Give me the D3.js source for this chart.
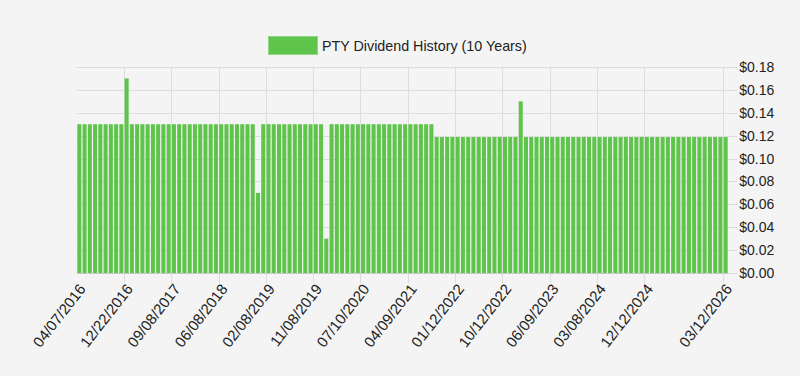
<!DOCTYPE html>
<html>
<head>
<meta charset="utf-8">
<script src="https://cdn.jsdelivr.net/npm/d3@7"></script>
<style>
  html, body { margin: 0; padding: 0; background: #f4f4f4; }
  svg { display: block; font-family: "Liberation Sans", Arial, sans-serif; }
  .grid line { stroke: #dddddd; stroke-width: 1; }
  .tick text { fill: #222; }
</style>
</head>
<body>
<svg id="chart" width="800" height="376"></svg>
<script>
(function(){
  // ex-dividend dates, one per bar
  var dates = [
    '04/07/2016','05/09/2016','06/09/2016','07/07/2016','08/09/2016','09/09/2016','10/07/2016','11/08/2016','12/08/2016','12/22/2016',
    '01/10/2017','02/08/2017','03/09/2017','04/07/2017','05/09/2017','06/08/2017','07/07/2017','08/09/2017','09/08/2017','10/10/2017',
    '11/09/2017','12/08/2017','01/10/2018','02/08/2018','03/08/2018','04/09/2018','05/09/2018','06/08/2018','07/09/2018','08/09/2018',
    '09/10/2018','10/10/2018','11/08/2018','12/10/2018','12/27/2018','01/10/2019','02/08/2019','03/08/2019','04/08/2019','05/09/2019',
    '06/10/2019','07/10/2019','08/09/2019','09/10/2019','10/10/2019','11/08/2019','12/09/2019','12/27/2019','01/10/2020','02/10/2020',
    '03/10/2020','04/09/2020','05/08/2020','06/10/2020','07/10/2020','08/10/2020','09/10/2020','10/09/2020','11/09/2020','12/10/2020',
    '01/11/2021','02/10/2021','03/10/2021','04/09/2021','05/10/2021','06/10/2021','07/09/2021','08/10/2021','09/10/2021','10/08/2021',
    '11/10/2021','12/10/2021','01/12/2022','02/09/2022','03/10/2022','04/08/2022','05/10/2022','06/09/2022','07/08/2022','08/10/2022',
    '09/09/2022','10/12/2022','11/10/2022','12/09/2022','12/28/2022','01/11/2023','02/09/2023','03/10/2023','04/11/2023','05/10/2023',
    '06/09/2023','07/11/2023','08/10/2023','09/08/2023','10/11/2023','11/09/2023','12/08/2023','01/10/2024','02/08/2024','03/08/2024',
    '04/10/2024','05/10/2024','06/11/2024','07/11/2024','08/12/2024','09/11/2024','10/11/2024','11/12/2024','12/12/2024','01/13/2025',
    '02/11/2025','03/11/2025','04/11/2025','05/12/2025','06/11/2025','07/11/2025','08/12/2025','09/11/2025','10/14/2025','11/12/2025',
    '12/11/2025','01/13/2026','02/11/2026','03/12/2026'
  ];

  // dividend per share, same order as dates
  var dividends = [
    0.13, 0.13, 0.13, 0.13, 0.13, 0.13, 0.13, 0.13, 0.13, 0.17,
    0.13, 0.13, 0.13, 0.13, 0.13, 0.13, 0.13, 0.13, 0.13, 0.13,
    0.13, 0.13, 0.13, 0.13, 0.13, 0.13, 0.13, 0.13, 0.13, 0.13,
    0.13, 0.13, 0.13, 0.13, 0.07, 0.13, 0.13, 0.13, 0.13, 0.13,
    0.13, 0.13, 0.13, 0.13, 0.13, 0.13, 0.13, 0.03, 0.13, 0.13,
    0.13, 0.13, 0.13, 0.13, 0.13, 0.13, 0.13, 0.13, 0.13, 0.13,
    0.13, 0.13, 0.13, 0.13, 0.13, 0.13, 0.13, 0.13, 0.1188, 0.1188,
    0.1188, 0.1188, 0.1188, 0.1188, 0.1188, 0.1188, 0.1188, 0.1188, 0.1188, 0.1188,
    0.1188, 0.1188, 0.1188, 0.1188, 0.15, 0.1188, 0.1188, 0.1188, 0.1188, 0.1188,
    0.1188, 0.1188, 0.1188, 0.1188, 0.1188, 0.1188, 0.1188, 0.1188, 0.1188, 0.1188,
    0.1188, 0.1188, 0.1188, 0.1188, 0.1188, 0.1188, 0.1188, 0.1188, 0.1188, 0.1188,
    0.1188, 0.1188, 0.1188, 0.1188, 0.1188, 0.1188, 0.1188, 0.1188, 0.1188, 0.1188,
    0.1188, 0.1188, 0.1188, 0.1188
  ];

  var xTickLabels = ['04/07/2016','12/22/2016','09/08/2017','06/08/2018','02/08/2019','11/08/2019',
    '07/10/2020','04/09/2021','01/12/2022','10/12/2022','06/09/2023','03/08/2024','12/12/2024','03/12/2026'];
  var yTicks = [0, 0.02, 0.04, 0.06, 0.08, 0.10, 0.12, 0.14, 0.16, 0.18];

  var seriesName = 'PTY Dividend History (10 Years)';
  var barColor = '#5ec44b';

  var plot = {left: 76.7, right: 728.3, top: 67, bottom: 273};

  var svg = d3.select('#chart');

  // Scales
  var x = d3.scaleBand()
    .domain(d3.range(dates.length))
    .range([plot.left, plot.right])
    .paddingInner(0.23)
    .paddingOuter(0.115);

  var y = d3.scaleLinear()
    .domain([0, 0.18])
    .range([plot.bottom, plot.top]);

  var step = x.step();
  var gapHalf = (step - x.bandwidth()) / 2;

  // Horizontal grid, running a little past the plot on the right
  svg.append('g')
    .classed('grid', true)
    .selectAll('line')
    .data(yTicks)
    .enter()
    .append('line')
    .attr('x1', plot.left)
    .attr('x2', plot.right + 9)
    .attr('y1', function(d) {return Math.round(y(d)) + 0.5;})
    .attr('y2', function(d) {return Math.round(y(d)) + 0.5;});

  // Vertical grid at labelled categories (category boundary)
  var tickIdx = xTickLabels.map(function(d) {return dates.indexOf(d);});

  svg.append('g')
    .classed('grid', true)
    .selectAll('line')
    .data(tickIdx.filter(function(i) {return i > 0;}))
    .enter()
    .append('line')
    .attr('x1', function(i) {return Math.round(x(i) - gapHalf) + 0.5;})
    .attr('x2', function(i) {return Math.round(x(i) - gapHalf) + 0.5;})
    .attr('y1', plot.top)
    .attr('y2', plot.bottom + 10);

  // Bars
  svg.append('g')
    .classed('bars', true)
    .selectAll('rect')
    .data(dividends)
    .enter()
    .append('rect')
    .attr('x', function(d, i) {return x(i);})
    .attr('width', x.bandwidth())
    .attr('y', function(d) {return y(d);})
    .attr('height', function(d) {return y(0) - y(d);})
    .attr('fill', barColor);

  // zero line
  svg.append('line')
    .attr('x1', plot.left)
    .attr('x2', plot.right)
    .attr('y1', Math.round(y(0)) + 0.5)
    .attr('y2', Math.round(y(0)) + 0.5)
    .attr('stroke', '#c8c8c8');

  // Right axis
  var yAxis = d3.axisRight(y)
    .tickValues(yTicks)
    .tickFormat(d3.format('$.2f'))
    .tickSize(0)
    .tickPadding(0);

  svg.append('g')
    .attr('transform', 'translate(' + (plot.right + 11) + ',0)')
    .call(yAxis)
    .call(function(g) {g.select('.domain').remove();})
    .selectAll('text')
    .style('font-size', '14px')
    .style('font-family', '"Liberation Sans", Arial, sans-serif');

  // Rotated x labels
  svg.append('g')
    .classed('x-labels', true)
    .selectAll('text')
    .data(tickIdx)
    .enter()
    .append('text')
    .attr('transform', function(i) {
      return 'translate(' + (x(i) + x.bandwidth() / 2 + 3) + ',' + (plot.bottom + 13) + ') rotate(-52)';
    })
    .attr('text-anchor', 'end')
    .attr('dy', '0.35em')
    .style('font-size', '15px')
    .attr('fill', '#222')
    .text(function(i) {return dates[i];});

  // Legend
  var legend = svg.append('g').classed('legend', true);
  legend.append('rect')
    .attr('x', 268.5)
    .attr('y', 36.5)
    .attr('width', 49)
    .attr('height', 18)
    .attr('fill', barColor)
    .attr('stroke', '#8fd882')
    .attr('stroke-width', 1);
  legend.append('text')
    .attr('x', 322)
    .attr('y', 51)
    .style('font-size', '14.3px')
    .attr('fill', '#222')
    .text(seriesName);
})();
</script>
</body>
</html>
